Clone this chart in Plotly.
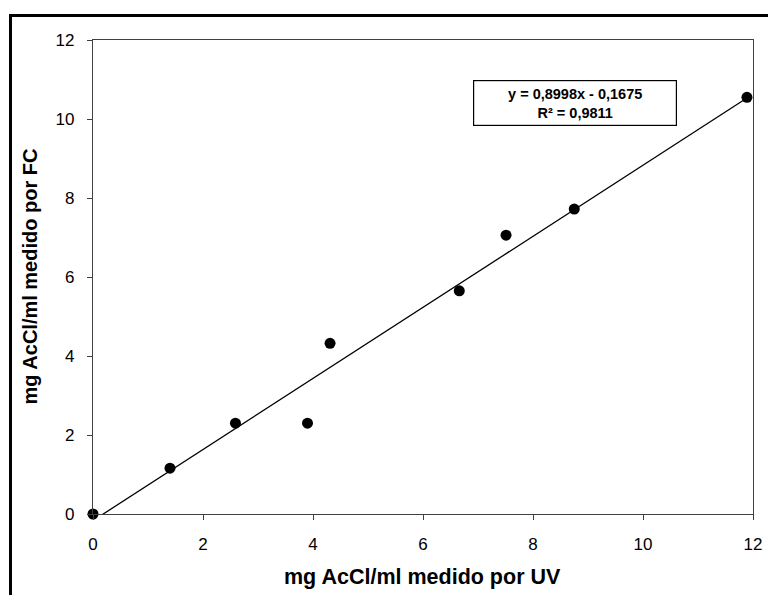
import plotly.graph_objects as go

# Concentration of AcCl (mg/ml) measured by UV vs. by Folin-Ciocalteu
uv_values = [0.0, 1.40, 2.59, 3.90, 4.31, 6.66, 7.51, 8.75, 11.89]
fc_values = [0.0, 1.16, 2.30, 2.30, 4.32, 5.65, 7.06, 7.72, 10.55]

# Linear trendline parameters (as printed in the equation box)
slope = 0.8998
intercept = -0.1675
r_squared = 0.9811

tick_vals = [0, 2, 4, 6, 8, 10, 12]

x_title = "mg AcCl/ml medido por UV"
y_title = "mg AcCl/ml medido por FC"

FONT = "Liberation Sans, Arial, sans-serif"

# plot-area geometry in pixels
L, R, T, B = 93, 753, 40, 514
W, H = R - L, B - T


def px_x(p):
    return (p - L) / W


def px_y(p):
    return (B - p) / H


x_fit = [0.0, max(uv_values)]
y_fit = [slope * x + intercept for x in x_fit]

fig = go.Figure()

fig.add_trace(go.Scatter(
    x=x_fit, y=y_fit, mode="lines",
    line=dict(color="black", width=1.3),
    showlegend=False, hoverinfo="skip",
))

fig.add_trace(go.Scatter(
    x=uv_values, y=fc_values, mode="markers",
    marker=dict(color="black", size=11, line=dict(width=0)),
    showlegend=False, cliponaxis=False,
))

axis_common = dict(
    range=[0, 12],
    tickvals=tick_vals,
    ticks="outside",
    ticklen=5,
    tickwidth=1.3,
    tickcolor="#404040",
    showline=True,
    linecolor="#404040",
    linewidth=1.3,
    mirror=True,
    showgrid=False,
    zeroline=False,
    automargin=False,
    tickfont=dict(family=FONT, size=17, color="black"),
)

fig.update_xaxes(**axis_common, ticklabelstandoff=9)
fig.update_yaxes(**axis_common, ticklabelstandoff=9)

# Axis titles
fig.add_annotation(
    xref="paper", yref="paper", x=px_x(422.5), y=px_y(577),
    xanchor="center", yanchor="middle", showarrow=False,
    text=f"<b>{x_title}</b>", font=dict(family=FONT, size=21.5, color="black"),
)
fig.add_annotation(
    xref="paper", yref="paper", x=px_x(29.5), y=px_y(277),
    xanchor="center", yanchor="middle", showarrow=False, textangle=-90,
    text=f"<b>{y_title}</b>", font=dict(family=FONT, size=20, color="black"),
)

eq_text = (f"<b>y = {str(slope).replace('.', ',')}x - {str(-intercept).replace('.', ',')}</b><br>"
           f"<b>R² = {str(r_squared).replace('.', ',')}</b>")

fig.add_annotation(
    xref="paper", yref="paper",
    x=px_x(574.8), y=px_y(103.4),
    xanchor="center", yanchor="middle",
    text=eq_text, showarrow=False,
    font=dict(family=FONT, size=14.5, color="black"),
    bordercolor="black", borderwidth=1.2, borderpad=4,
    bgcolor="white", width=194, height=36, align="center",
)

# Outer chart frame: top and left edges
fig.add_shape(type="line", xref="paper", yref="paper",
              x0=px_x(9), x1=px_x(800), y0=px_y(15.5), y1=px_y(15.5),
              line=dict(color="black", width=3))
fig.add_shape(type="line", xref="paper", yref="paper",
              x0=px_x(10.5), x1=px_x(10.5), y0=px_y(14), y1=px_y(640),
              line=dict(color="black", width=3))

fig.update_layout(
    width=768, height=595,
    margin=dict(l=L, r=768 - R, t=T, b=595 - B),
    paper_bgcolor="white", plot_bgcolor="white",
    showlegend=False,
)

fig.write_html("out.html")
